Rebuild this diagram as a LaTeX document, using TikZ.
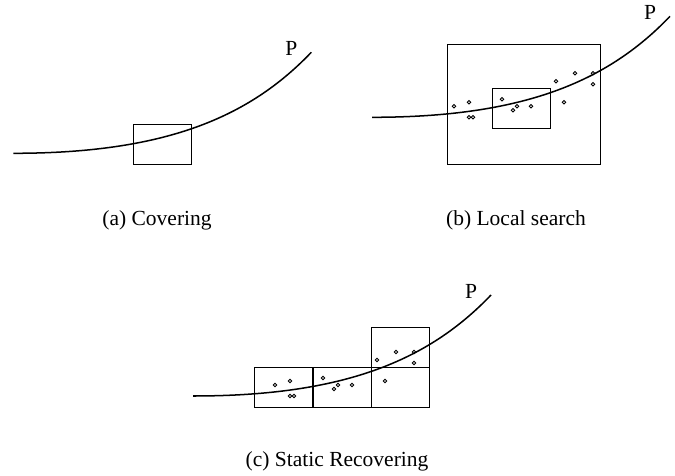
\documentclass[tikz,border=0pt]{standalone}
\usepackage{fontspec}
\setmainfont{Liberation Serif}
\usetikzlibrary{positioning}
\tikzset{
  curveP/.style={line width=0.7pt},
  cellbox/.style={line width=0.45pt},
  sample/.style={line width=0.4pt},
}
% the curve P, its start at the scope origin
\newcommand{\pathP}[1]{%
  \draw[curveP] (0,0) .. controls (150,0) and (235,35) .. (298,101);
  \node[anchor=base] (#1) at (278,98) {P};}
% sampled points round the curve
\newcommand{\samples}{%
  \foreach \x/\y in {82/11,97/15,97/0,101/0,130/18,141/7,145/11,159/11,
                     184/36,192/15,203/44,221/44,221/33}{
    \draw[sample] (\x,\y) circle[radius=1.8];
  }}

\begin{document}
\begin{tikzpicture}[x=0.465pt,y=0.465pt]
  \useasboundingbox (0,0) rectangle (675,475);

  % (a)
  \begin{scope}[shift={(13.3,321.7)}]
    \pathP{labPa}
    \draw[cellbox] (120,-11) rectangle (178,29);
  \end{scope}
  \node[anchor=base] (capA) at (157,250) {(a) Covering};

  % (b)
  \begin{scope}[shift={(372,357.7)}]
    \draw[cellbox] (75,-47) rectangle (228,73);
    \draw[cellbox] (120,-11) rectangle (178,29);
    \samples
    \pathP{labPb}
  \end{scope}
  \node[anchor=base] (capB) at (516,250) {(b) Local search};

  % (c)
  \begin{scope}[shift={(193,79)}]
    \foreach \c in {61,120,178}{
      \draw[cellbox] (\c,-11) rectangle ++(58,40);
    }
    \draw[cellbox] (178,29) rectangle ++(58,40);
    \samples
    \pathP{labPc}
  \end{scope}
  \node[anchor=base] (capC) at (337,9) {(c) Static Recovering};
\end{tikzpicture}
\end{document}
